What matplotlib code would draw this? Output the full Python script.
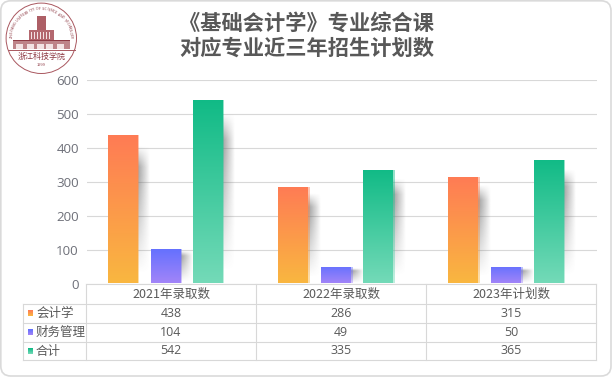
import numpy as np
import matplotlib
matplotlib.use("Agg")
import matplotlib.pyplot as plt
from matplotlib.patches import FancyBboxPatch, Circle, Rectangle
from matplotlib.colors import LinearSegmentedColormap

categories = ["2021年录取数", "2022年录取数", "2023年计划数"]
series_names = ["会计学", "财务管理", "合计"]
accounting = [438, 286, 315]
finance = [104, 49, 50]
total = [542, 335, 365]
y_ticks = [0, 100, 200, 300, 400, 500, 600]
title_line1 = "《基础会计学》专业综合课"
title_line2 = "对应专业近三年招生计划数"
colors_top = ["#FF7A55", "#5F6FFF", "#0FBA85"]
colors_bottom = ["#F9B740", "#A385F8", "#74DAB8"]

W, H = 612, 377
plt.rcParams['font.family'] = ['Noto Sans CJK SC', 'DejaVu Sans']
fig = plt.figure(figsize=(W/100, H/100), dpi=100)
bg = fig.add_axes([0, 0, 1, 1])
bg.set_xlim(0, W); bg.set_ylim(H, 0); bg.axis("off")
bg.add_patch(FancyBboxPatch((0.8, 0.8), W-1.8, H-1.8, boxstyle="round,pad=0,rounding_size=10",
                            fc="white", ec="#DADADA", lw=1.2))

# plot axes
L, R, T, B = 86.5, 597, 80.5, 284.0
ax = fig.add_axes([L/W, 1-B/H, (R-L)/W, (B-T)/H])
ax.set_xlim(0, 3); ax.set_ylim(0, 600)
ax.patch.set_alpha(0)
for s in ax.spines.values():
    s.set_visible(False)
ax.set_yticks(y_ticks)
ax.set_xticks([])
ax.tick_params(axis="y", length=0, pad=5.5, labelsize=9.6, labelcolor="#6E7079")
ax.grid(axis="y", color="#D8D8D8", lw=0.8)
ax.set_axisbelow(True)
for lab in ax.get_yticklabels():
    lab.set_fontfamily("Open Sans")

offsets = [-0.287, -0.0345, 0.213]
bw = 0.172
edge_w = 0.006
series = [accounting, finance, total]

def grad(c1, c2):
    return LinearSegmentedColormap.from_list("g", [c1, c2])

def clipped(im, x, y, w, h):
    im.set_clip_path(Rectangle((x, y), w, h, transform=ax.transData))

for si, vals in enumerate(series):
    cm = grad(colors_top[si], colors_bottom[si])
    for i, v in enumerate(vals):
        c = i + 0.5 + offsets[si]
        x0, x1 = c - bw/2, c + bw/2
        # soft shadow to the right of the bar
        sx0, sx1 = x1, x1 + 0.074
        fade_x = np.linspace(1, 0, 40)[None, :]**0.95
        hgt = np.linspace(0, 1, 100)[:, None]   # 0 at bar top, 1 at base
        rise = np.clip((hgt - 0.07) / 0.14, 0, 1)
        fall = np.clip((0.93 - hgt) / 0.66, 0, 1)
        fade_y = np.minimum(rise, fall)
        rgba = np.zeros((100, 40, 4))
        rgba[..., :3] = 0.40
        rgba[..., 3] = 0.62 * fade_x * fade_y
        ax.imshow(rgba, extent=[sx0, sx1, 0, v], origin="upper", aspect="auto",
                  zorder=2, interpolation="bilinear")
        g = np.linspace(0, 1, 128)
        im = ax.imshow(cm(g)[:, None, :3], extent=[x0 - 0.01, x1 + 0.01, 0, v + 6],
                       origin="upper", aspect="auto", zorder=3)
        clipped(im, x0, 1.5, bw, v - 1.5)
        # pale right edge of the bar
        edge = cm(g)[:, None, :].copy()
        edge[..., 3] = 0.45
        im2 = ax.imshow(edge, extent=[x1 - 0.01, x1 + 0.02, 0, v + 6], origin="upper",
                        aspect="auto", zorder=3)
        clipped(im2, x1, 1.5, edge_w, v - 1.5)
ax.set_xlim(0, 3); ax.set_ylim(0, 600)

# data table
cols = [86, 256, 426, 596]
rows = [284, 304, 323, 342, 360]
left = 23
line = dict(color="#D8D8D8", lw=0.8)
for x in cols:
    bg.plot([x, x], [rows[0], rows[-1]], **line)
bg.plot([left, left], [rows[1], rows[-1]], **line)
bg.plot([cols[0], cols[-1]], [rows[0], rows[0]], **line)
for y in rows[1:]:
    bg.plot([left, cols[-1]], [y, y], **line)
tc = "#5A5A5A"
for i, name in enumerate(categories):
    cx = (cols[i]+cols[i+1])/2
    bg.text(cx, (rows[0]+rows[1])/2, name, ha="center", va="center", fontsize=9, color=tc)
    for r, vals in enumerate(series):
        bg.text(cx, (rows[r+1]+rows[r+2])/2, str(vals[i]), ha="center", va="center",
                fontsize=8.9, color=tc, family="Open Sans")
for r, name in enumerate(series_names):
    ym = (rows[r+1]+rows[r+2])/2
    bg.imshow(np.linspace(0, 1, 16)[:, None], extent=[28, 33, ym+3, ym-3], aspect="auto",
              cmap=grad(colors_top[r], colors_bottom[r]), zorder=3)
    bg.text(36, ym, name, ha="left", va="center", fontsize=9, color=tc)
bg.set_xlim(0, W); bg.set_ylim(H, 0)

# title
for y, s in ((23.5, title_line1), (48.5, title_line2)):
    bg.text(306.5, y, s, ha="center", va="center", fontsize=15.3, color="#585858",
            fontweight="bold")

# logo
lc = "#A9575F"
cx, cy, rad = 41.3, 38.3, 35.2
bg.add_patch(Circle((cx, cy), rad, fc="white", ec=lc, lw=0.7))
txt = "ZHEJIANG UNIVERSITY OF SCIENCE AND TECHNOLOGY"
angs = np.linspace(178, 2, len(txt))
for ch, a in zip(txt, angs):
    t = np.deg2rad(a)
    bg.text(cx+29.5*np.cos(t), cy-29.5*np.sin(t), ch, fontsize=2.7, color="#8E3A44", ha="center",
            va="center", rotation=a-90)
for x, y, w, h, col in [(13, 40, 57, 9, "#BE8489"), (29, 30, 25, 10, "#B4686F"),
                        (37, 16, 9, 14, "#AD5F66")]:
    bg.add_patch(Rectangle((x, y), w, h, fc=col, ec="none"))
bg.add_patch(Rectangle((13, 39.5), 57, 1.2, fc="#8E3A44", ec="none"))
for x in (16, 27, 36.5, 46, 57):
    bg.add_patch(Rectangle((x, 44), 7, 5, fc="#F3E3E4", ec="none"))
for x in (31, 34, 37, 40, 43, 46, 49):
    bg.add_patch(Rectangle((x, 32), 1, 7, fc="#F3E3E4", ec="none"))
bg.plot([8, 74.5], [49.7, 49.7], color=lc, lw=0.7)
bg.text(cx, 56.5, "浙江科技学院", ha="center", va="center", fontsize=5.8, color="#8E3A44")
bg.text(cx, 65.3, "1999", ha="center", va="center", fontsize=3, color="#8E3A44")
bg.set_xlim(0, W); bg.set_ylim(H, 0)

fig.savefig("out.png", dpi=100)
